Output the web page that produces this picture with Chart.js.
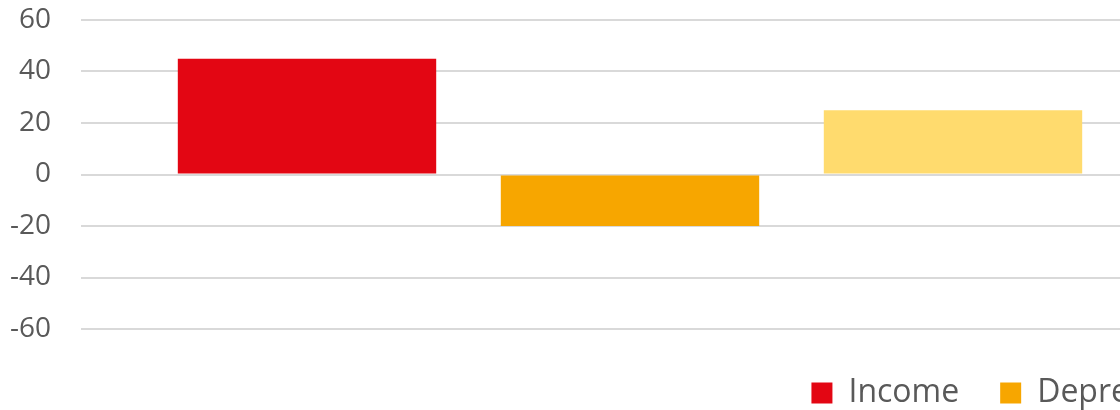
<!DOCTYPE html>
<html>
<head>
<meta charset="utf-8">
<script src="https://cdn.jsdelivr.net/npm/chart.js@4"></script>
<style>
  html, body { margin: 0; padding: 0; background: #fff; overflow: hidden; }
  #wrap { width: 1401px; height: 419px; }
</style>
</head>
<body>
<div id="wrap"><canvas id="barChart"></canvas></div>
<script>
var categories = [''];
var seriesNames = ['Income', 'Depreciation', 'Net'];
var seriesValues = [[45], [-20], [25]];
var seriesColors = ['#E30613', '#F7A600', '#FFDB6E'];
var yTicks = [-60, -40, -20, 0, 20, 40, 60];

var ctx = document.getElementById('barChart').getContext('2d');

var datasets = seriesNames.map(function (name, i) {
    return {
        label: name,
        data: seriesValues[i],
        backgroundColor: seriesColors[i],
        borderWidth: 0,
        barPercentage: 0.8,
        categoryPercentage: 0.8825
    };
});

var barChart = new Chart(ctx, {
    type: 'bar',
    data: {
        labels: categories,
        datasets: datasets
    },
    options: {
        responsive: true,
        maintainAspectRatio: false,
        animation: false,
        layout: {
            padding: { top: 20, right: 0, left: 0, bottom: 0 }
        },
        plugins: {
            tooltip: { enabled: false },
            legend: {
                position: 'bottom',
                align: 'end',
                labels: {
                    font: { family: 'Open Sans', size: 32 },
                    color: '#595959',
                    boxWidth: 21,
                    boxHeight: 21,
                    padding: 41
                }
            }
        },
        scales: {
            x: {
                grid: { display: false, drawTicks: false },
                border: { display: false },
                ticks: { display: false },
                afterFit: function (axis) { axis.height = 7; }
            },
            y: {
                min: yTicks[0],
                max: yTicks[yTicks.length - 1],
                afterBuildTicks: function (axis) {
                    axis.ticks = yTicks.map(function (v) { return { value: v }; });
                },
                afterFit: function (axis) {
                    axis.width = 81;
                    axis.paddingTop = 0;
                    axis.paddingBottom = 0;
                },
                grid: { color: '#D9D9D9', lineWidth: 2, drawTicks: false },
                border: { display: false },
                ticks: {
                    font: { family: 'Open Sans', size: 28 },
                    color: '#595959',
                    padding: 30
                }
            },
            // empty right-hand gutter, the reference is cut off at the right edge
            yRight: {
                position: 'right',
                grid: { display: false, drawTicks: false },
                border: { display: false },
                ticks: { display: false },
                afterFit: function (axis) { axis.width = 222; }
            }
        }
    }
});
</script>
</body>
</html>
